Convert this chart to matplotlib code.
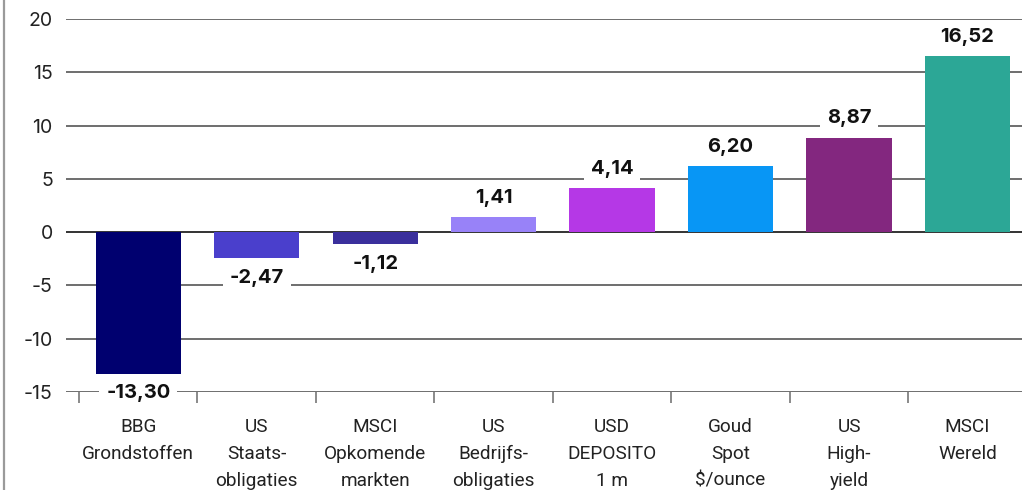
import matplotlib
matplotlib.use("Agg")
import matplotlib.pyplot as plt
from matplotlib.lines import Line2D
import numpy as np

# Rendement per beleggingscategorie (%)
categories = [
    "BBG\nGrondstoffen",
    "US\nStaats-\nobligaties",
    "MSCI\nOpkomende\nmarkten",
    "US\nBedrijfs-\nobligaties",
    "USD\nDEPOSITO\n1 m",
    "Goud\nSpot\n$/ounce",
    "US\nHigh-\nyield",
    "MSCI\nWereld",
]
values = [-13.30, -2.47, -1.12, 1.41, 4.14, 6.20, 8.87, 16.52]
colors = ["#00006f", "#4a3fcc", "#3a2f9c", "#9882f8", "#b538e6",
          "#0896f5", "#83277f", "#2ca796"]
yticks = [-15, -10, -5, 0, 5, 10, 15, 20]

W, H = 1022, 490
fig = plt.figure(figsize=(W / 100, H / 100), dpi=100)
ax = fig.add_axes([66 / W, (H - 392) / H, (W - 66) / W, (392 - 19) / H])

x = np.arange(len(categories))
ax.bar(x, values, width=0.72, color=colors, zorder=3)

ax.set_ylim(-15, 20)
ax.set_xlim(-0.61, 7.46)

# horizontal gridlines
for t in yticks:
    ax.axhline(t, color="#333333" if t == 0 else "#6e6e6e",
               lw=1.4, zorder=1)

for s in ax.spines.values():
    s.set_visible(False)

ax.set_yticks(yticks)
ax.set_yticklabels([str(t) for t in yticks], fontfamily="Inter",
                   fontsize=14, color="#222222")
ax.tick_params(axis="y", length=0, pad=9.5)

# category separators below the axis and labels at the centres
ax.set_xticks(np.arange(-0.5, len(categories) - 0.5, 1.0))
ax.set_xticklabels([])
ax.tick_params(axis="x", which="major", length=8, width=1.4,
               color="#8a8a8a")
ax.set_xticks(x, minor=True)
ax.set_xticklabels(categories, minor=True, fontfamily="Roboto",
                   fontsize=13.7, color="#222222", linespacing=1.62)
ax.tick_params(axis="x", which="minor", length=0, pad=19)

# value labels
for xi, v in zip(x, values):
    off = 14 if v >= 0 else -14
    ax.annotate(f"{v:.2f}".replace(".", ","), (xi, v),
                xytext=(0, off), textcoords="offset points",
                ha="center", va="center", fontfamily="Inter",
                fontweight="bold", fontsize=14.5, color="#111111",
                zorder=5,
                bbox=dict(boxstyle="square,pad=0.35", fc="white",
                          ec="none"))

# left border
fig.add_artist(Line2D([3.5 / W, 3.5 / W], [0, 1], color="#9a9a9a",
                      lw=1.6, transform=fig.transFigure))

fig.savefig("out.png", dpi=100)
